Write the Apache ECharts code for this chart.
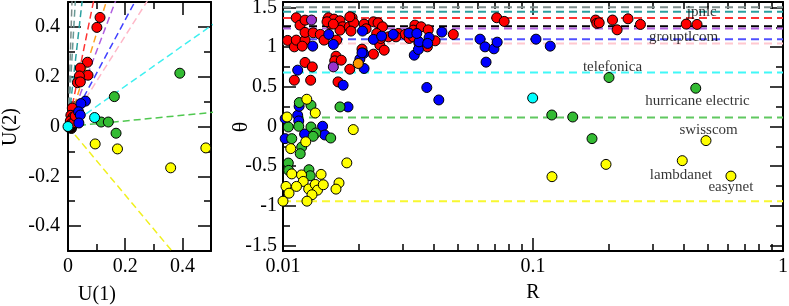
<!DOCTYPE html>
<html><head><meta charset="utf-8">
<script src="https://cdn.jsdelivr.net/npm/echarts@6/dist/echarts.min.js"></script>
<style>html,body{margin:0;padding:0;background:#fff}#c{width:789px;height:306px}</style>
</head><body><div id="c"></div>
<script>
// ---- tick values ----
const leftXTicks = [0, 0.2, 0.4];
const leftXMinor = [0.1, 0.3];
const leftYTicks = [-0.4, -0.2, 0, 0.2, 0.4];
const leftYMinor = [-0.3, -0.1, 0.1, 0.3];
const rightXTicks = [0.01, 0.1, 1];
const rightXMinor = [0.02,0.03,0.04,0.05,0.06,0.07,0.08,0.09,0.2,0.3,0.4,0.5,0.6,0.7,0.8,0.9];
const rightYTicks = [-1.5, -1, -0.5, 0, 0.5, 1, 1.5];
const rightYMinor = [-1.25, -0.75, -0.25, 0.25, 0.75, 1.25];

// ---- left panel: U(1), U(2) ----
const leftRed = [[0.112,0.438],[0.101,0.398],[0.068,0.258],[0.043,0.235],[0.070,0.206],[0.040,0.203],[0.033,0.176],[0.043,0.179],[0.015,0.074],
  [0.010,0.045],[0.018,0.038],[0.022,0.028],[0.008,0.022],[0.013,0.012],[0.020,0.015],[0.025,0.042]];
const leftBlack = [[0.006,0.004],[0.012,-0.008],[0.016,0.004],[0.008,0.012],[0.004,-0.004]];
const leftBlue = [[0.061,0.102],[0.045,0.092],[0.037,0.059],[0.043,0.046],[0.038,0.014]];
const leftCyan = [[0.093,0.036],[0.0,0.0]];
const leftGreen = [[0.391,0.214],[0.162,0.120],[0.116,0.018],[0.141,0.018],[0.168,-0.027]];
const leftYellow = [[0.095,-0.070],[0.173,-0.090],[0.359,-0.166],[0.482,-0.086]];
// directions (angle theta) of the dashed rays in the left panel
const rayAngles = [1.543, 1.52, 1.473, 1.395, 1.31, 1.252, 1.134, 1.068, 0.68, 0.112, -0.942];
const rayColors = ['#7d8c8a','#6a9a96','#2aa0a0','#ff3333','#ffa020','#b060e0','#4040ff','#ffb8c8','#40f0f0','#50c850','#f0f020'];

// ---- right panel: R (log), theta ----
const rightRed = [[0.01044,1.086],[0.0113,1.372],[0.0117,1.279],[0.01225,1.342],[0.0111,1.005],[0.0113,1.090],[0.01225,1.090],[0.01225,1.187],
  [0.0132,1.182],[0.0141,1.162],[0.0146,1.090],[0.0152,1.372],[0.0155,1.292],[0.0160,1.355],[0.0169,1.334],[0.0173,1.258],[0.0169,1.216],
  [0.0184,1.258],[0.0189,1.372],[0.0192,1.308],[0.0187,1.204],[0.0164,1.090],[0.0211,1.292],[0.0215,1.233],[0.0230,1.321],[0.0240,1.308],
  [0.0250,1.258],[0.0237,1.174],[0.0240,1.077],[0.0244,1.027],[0.0254,0.963],[0.0230,0.913],[0.0264,1.131],[0.0289,1.174],[0.0308,1.162],
  [0.0320,1.111],[0.0337,1.279],[0.0332,1.216],[0.0357,1.258],[0.0332,1.131],[0.0350,1.048],[0.0381,1.220],[0.0406,1.081],[0.0480,1.162],
  [0.0207,0.976],[0.01225,0.808],[0.0131,0.752],[0.0163,0.887],[0.0161,0.828],[0.0171,0.837],[0.0185,0.723],[0.0111,0.584],[0.0129,0.584],
  [0.0166,0.563],[0.0378,1.005],[0.0716,1.372],[0.0767,1.326],[0.178,1.343],[0.180,1.301],[0.184,1.308],[0.208,1.343],[0.217,1.220],
  [0.240,1.359],[0.269,1.288],[0.410,1.292],[0.453,1.288],[0.01194,1.014],[0.0150,1.321],[0.0159,1.292],[0.0185,1.384],[0.0283,1.131],[0.0246,1.111]];
const rightBlue = [[0.01315,1.014],[0.01145,0.711],[0.01524,1.162],[0.0159,1.035],[0.0208,1.204],[0.0210,0.922],[0.0203,0.850],[0.0211,0.732],
  [0.0230,1.099],[0.0174,0.521],[0.0182,0.247],[0.0276,1.162],[0.0319,1.178],[0.0335,0.900],[0.0348,0.972],[0.0350,1.068],[0.0384,1.124],
  [0.0379,1.048],[0.0432,1.191],[0.0376,0.492],[0.0420,0.335],[0.0614,1.102],[0.0643,1.005],[0.0698,0.980],[0.0719,1.064],[0.0649,0.812],
  [0.1028,1.102],[0.1172,1.014],[0.0102,0.100],[0.01145,0.142],[0.01156,0.070],[0.0116,0.255],[0.0144,0.003],[0.0147,-0.107],[0.0122,-0.095],
  [0.0102,-0.153],[0.0248,1.140],[0.0207,0.929],[0.0343,1.174]];
const rightGreen = [[0.01162,0.302],[0.01294,0.268],[0.01156,0.003],[0.0105,-0.006],[0.01294,-0.006],[0.01352,-0.082],[0.0132,-0.124],
  [0.01552,-0.145],[0.0169,0.247],[0.01084,-0.153],[0.01188,-0.259],[0.01172,-0.343],[0.0105,-0.461],[0.01054,-0.554],[0.0127,-0.545],
  [0.01285,-0.621],[0.2014,0.618],[0.4477,0.483],[0.1189,0.145],[0.1442,0.120],[0.1722,-0.153]];
const rightYellow = [[0.01038,0.120],[0.01245,0.344],[0.01346,0.171],[0.0191,-0.039],[0.01074,-0.279],[0.01233,-0.193],[0.0180,-0.459],
  [0.0142,-0.604],[0.01084,-0.598],[0.01186,-0.611],[0.01205,-0.693],[0.01028,-0.756],[0.01132,-0.756],[0.01057,-0.841],[0.01267,-0.788],
  [0.01346,-0.731],[0.01374,-0.803],[0.01449,-0.735],[0.01306,-0.861],[0.01247,-0.942],[0.0100,-0.942],[0.01675,-0.712],[0.01629,-0.790],
  [0.1191,-0.633],[0.1959,-0.478],[0.3954,-0.431],[0.492,-0.178],[0.619,-0.626]];
const rightCyan = [[0.0997,0.360]];
const rightOrange = [[0.0200,0.795]];
const rightPurple = [[0.0130,1.343],[0.0159,0.752]];
// horizontal reference levels
const levelValues = [1.505, 1.447, 1.37, 1.265, 1.235, 1.10, 1.048, 0.68, 0.112, -0.942];
const levelColors = ['#7d8c8a','#2aa0a0','#ff3333','#000000','#b060e0','#5050ff','#ffc8d0','#40f8f8','#60c860','#f8f830'];
// annotations
const noteNames = ['jpnic','grouptlcom','telefonica','hurricane electric','swisscom','lambdanet','easynet'];
const notePos = [[0.473,1.444],[0.400,1.128],[0.208,0.755],[0.455,0.325],[0.504,-0.048],[0.391,-0.617],[0.619,-0.769]];

const FONT = '"Liberation Serif", "Times New Roman", serif';

function axes(gridIndex, dim, type, min, max, major, minor, margin) {
  const pos = dim === 'x' ? ['bottom', 'top'] : ['left', 'right'];
  const out = [];
  pos.forEach((p, i) => {
    out.push({
      type: type, gridIndex: gridIndex, position: p, min: min, max: max,
      axisLine: {show: true, onZero: false, lineStyle: {color: '#000', width: 2}},
      axisTick: {show: true, inside: true, length: 13, customValues: major, lineStyle: {color: '#000', width: 1.5}},
      axisLabel: {show: i === 0, customValues: major, margin: margin, color: '#000', fontFamily: FONT, fontSize: 20,
        formatter: v => String(v)},
      splitLine: {show: false}, minorTick: {show: false}, minorSplitLine: {show: false}
    });
    out.push({
      type: type, gridIndex: gridIndex, position: p, min: min, max: max,
      axisLine: {show: false, onZero: false},
      axisTick: {show: true, inside: true, length: 7, customValues: minor, lineStyle: {color: '#000', width: 1.5}},
      axisLabel: {show: false},
      splitLine: {show: false}, minorTick: {show: false}
    });
  });
  return out;
}

const xAxes = [].concat(
  axes(0, 'x', 'value', 0, 0.5, leftXTicks, leftXMinor, 6),
  axes(1, 'x', 'log', 0.01, 1, rightXTicks, rightXMinor, 6)
);
const yAxes = [].concat(
  axes(0, 'y', 'value', -0.5, 0.5, leftYTicks, leftYMinor, 8),
  axes(1, 'y', 'value', -Math.PI / 2, Math.PI / 2, rightYTicks, rightYMinor, 6)
);
xAxes.forEach(a => { if (a.type === 'log') a.logBase = 10; });

const series = [];
// left rays
rayAngles.forEach((t, i) => {
  series.push({type: 'line', xAxisIndex: 0, yAxisIndex: 0, silent: true, symbol: 'none', clip: true, z: 1,
    data: [[0, 0], [2 * Math.cos(t), 2 * Math.sin(t)]],
    lineStyle: {color: rayColors[i], width: 1.5, type: [7, 4]}});
});
// right levels
levelValues.forEach((v, i) => {
  series.push({type: 'line', xAxisIndex: 4, yAxisIndex: 4, silent: true, symbol: 'none', z: 1,
    data: [[0.01, v], [1, v]],
    lineStyle: {color: levelColors[i], width: 2, type: [8, 5]}});
});
function pts(data, color, xi, yi) {
  series.push({type: 'scatter', xAxisIndex: xi, yAxisIndex: yi, data: data, symbol: 'circle', symbolSize: 10, z: 3,
    itemStyle: {color: color, borderColor: '#000', borderWidth: 1, opacity: 1}});
}
pts(leftBlack, '#200000', 0, 0);
pts(leftRed, '#ff0000', 0, 0);
pts(leftBlue, '#0000ff', 0, 0);
pts(leftGreen, '#33bb33', 0, 0);
pts(leftYellow, '#ffff00', 0, 0);
pts(leftCyan, '#00ffff', 0, 0);
pts(rightRed, '#ff0000', 4, 4);
pts(rightBlue, '#0000ff', 4, 4);
pts(rightGreen, '#33bb33', 4, 4);
pts(rightYellow, '#ffff00', 4, 4);
pts(rightCyan, '#00ffff', 4, 4);
pts(rightOrange, '#ff9900', 4, 4);
pts(rightPurple, '#9933cc', 4, 4);
series.push({type: 'scatter', xAxisIndex: 4, yAxisIndex: 4, silent: true, symbolSize: 0, z: 5,
  data: notePos.map((p, i) => ({value: p, name: noteNames[i]})),
  label: {show: true, position: 'inside', formatter: p => p.name, color: '#000', fontFamily: FONT, fontSize: 15}});

const chart = echarts.init(document.getElementById('c'), null, {renderer: 'canvas'});
chart.setOption({
  animation: false,
  backgroundColor: '#fff',
  grid: [
    {left: 68, top: 2, width: 143, height: 249, outerBoundsMode: 'none', containLabel: false},
    {left: 283, top: 2, width: 500, height: 249, outerBoundsMode: 'none', containLabel: false}
  ],
  xAxis: xAxes,
  yAxis: yAxes,
  series: series,
  graphic: [
    {type: 'text', x: 97, y: 295, style: {text: 'U(1)', font: '20px ' + FONT, fill: '#000', align: 'center', verticalAlign: 'middle'}},
    {type: 'text', x: 11, y: 127, rotation: Math.PI / 2, style: {text: 'U(2)', font: '20px ' + FONT, fill: '#000', align: 'center', verticalAlign: 'middle'}},
    {type: 'text', x: 241, y: 127, rotation: Math.PI / 2, style: {text: 'θ', font: '22px ' + FONT, fill: '#000', align: 'center', verticalAlign: 'middle'}},
    {type: 'text', x: 533, y: 293, style: {text: 'R', font: '20px ' + FONT, fill: '#000', align: 'center', verticalAlign: 'middle'}}
  ]
});
</script>
</body></html>
